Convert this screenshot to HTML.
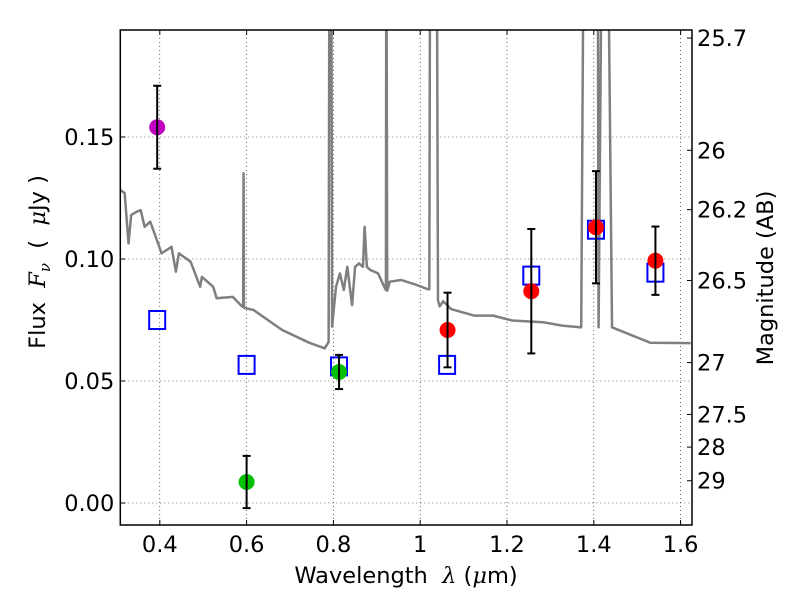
<!DOCTYPE html>
<html><head><meta charset="utf-8"><style>
body{margin:0;background:#fff}
svg{display:block;font-family:"DejaVu Sans","Liberation Sans",sans-serif}
</style></head><body>
<svg id="chart" width="800" height="600" viewBox="0 0 800 600"></svg>
<script>
const specLam=[0.309,0.319,0.328,0.334,0.347,0.356,0.365,0.378,0.396,0.404,0.427,0.437,0.444,0.471,0.493,0.497,0.523,0.531,0.568,0.590,0.592,0.593,0.594,0.599,0.616,0.682,0.744,0.780,0.789,0.791,0.795,0.797,0.806,0.815,0.824,0.832,0.843,0.850,0.859,0.868,0.872,0.877,0.885,0.903,0.917,0.921,0.922,0.924,0.930,0.956,0.991,1.018,1.021,1.023,1.027,1.038,1.041,1.045,1.053,1.061,1.071,1.124,1.168,1.212,1.283,1.327,1.371,1.377,1.409,1.411,1.419,1.432,1.442,1.530,1.623];
const specFlux=[0.1283,0.127,0.1064,0.118,0.1194,0.120,0.1132,0.1153,0.1064,0.1023,0.105,0.0948,0.1023,0.0989,0.0886,0.0927,0.0886,0.0839,0.0845,0.0805,0.0805,0.1351,0.0800,0.0798,0.0791,0.0709,0.0657,0.0634,0.066,0.25,0.25,0.0723,0.0886,0.0941,0.0873,0.0968,0.0811,0.0968,0.0982,0.0968,0.1132,0.0968,0.0955,0.0941,0.0886,0.0873,0.25,0.0870,0.0907,0.0914,0.0894,0.0876,0.0876,0.25,0.25,0.25,0.083,0.0806,0.0827,0.0813,0.0795,0.0768,0.0768,0.0748,0.0741,0.0727,0.0720,0.25,0.25,0.072,0.25,0.25,0.072,0.0657,0.0655];
const obsLam=[0.394,0.600,0.813,1.063,1.256,1.405,1.542];
const obsFlux=[0.154,0.0086,0.0537,0.0709,0.0868,0.113,0.0993];
const obsErr=[0.017,0.0107,0.007,0.0153,0.0255,0.023,0.014];
const obsColor=['#bf00bf','#00c000','#00c000','#ff0000','#ff0000','#ff0000','#ff0000'];
const modLam=[0.394,0.600,0.813,1.062,1.256,1.405,1.542];
const modFlux=[0.075,0.0566,0.056,0.0566,0.0932,0.112,0.0944];
const xTicks=[0.4,0.6,0.8,1.0,1.2,1.4,1.6];
const xTickLabels=['0.4','0.6','0.8','1','1.2','1.4','1.6'];
const yTicks=[0,0.05,0.10,0.15];
const yTickLabels=['0.00','0.05','0.10','0.15'];
const magTicks=[25.7,26,26.2,26.5,27,27.5,28,29];
const magLabels=['25.7','26','26.2','26.5','27','27.5','28','29'];

const L=120.3,R=692,T=30,B=525;
const X=v=>159.8+(v-0.4)*434;
const Y=v=>503-v*2440;
const NS='http://www.w3.org/2000/svg';
const svg=document.getElementById('chart');
function mk(tag,attrs,parent){const e=document.createElementNS(NS,tag);for(const k in attrs)e.setAttribute(k,attrs[k]);(parent||svg).appendChild(e);return e;}

const defs=mk('defs',{});
const cp=mk('clipPath',{id:'clip'},defs);
mk('rect',{x:L,y:T,width:R-L,height:B-T},cp);

const grid=mk('g',{});


xTicks.forEach(v=>mk('line',{x1:X(v),x2:X(v),y1:T,y2:B,stroke:'#000','stroke-width':0.6,'stroke-dasharray':'1,3'},grid));
yTicks.forEach(v=>mk('line',{x1:L,x2:R,y1:Y(v),y2:Y(v),stroke:'#000','stroke-width':0.6,'stroke-dasharray':'1,3'},grid));

const sp=mk('polyline',{points:specLam.map((l,i)=>X(l)+','+Y(specFlux[i])).join(' '),fill:'none',stroke:'#7f7f7f','stroke-width':2.5,'stroke-linejoin':'round','clip-path':'url(#clip)'});



modLam.forEach((l,i)=>{
  const r=mk('rect',{x:X(l)-8,y:Y(modFlux[i])-9,width:16,height:18,fill:'none',stroke:'#0000ff','stroke-width':2});
  
  
});
obsLam.forEach((l,i)=>{
  const g=mk('g',{});
  
  
  const x=X(l),y1=Y(obsFlux[i]+obsErr[i]),y2=Y(obsFlux[i]-obsErr[i]);
  mk('circle',{cx:x,cy:Y(obsFlux[i]),r:8,fill:obsColor[i]},g);
  mk('line',{x1:x,x2:x,y1:y1,y2:y2,stroke:'#000','stroke-width':2},g);
  mk('line',{x1:x-4,x2:x+4,y1:y1,y2:y1,stroke:'#000','stroke-width':2},g);
  mk('line',{x1:x-4,x2:x+4,y1:y2,y2:y2,stroke:'#000','stroke-width':2},g);
});

const fr=mk('rect',{x:L,y:T,width:R-L,height:B-T,fill:'none',stroke:'#000','stroke-width':1.5});



xTicks.forEach((v,i)=>{
  mk('line',{x1:X(v),x2:X(v),y1:B,y2:B-5,stroke:'#000'});
  mk('line',{x1:X(v),x2:X(v),y1:T,y2:T+5,stroke:'#000'});
  const t=mk('text',{x:X(v),y:B+27,'font-size':22.5,'text-anchor':'middle'});
  t.textContent=xTickLabels[i];
  
  
});
yTicks.forEach((v,i)=>{
  mk('line',{x1:L,x2:L+5,y1:Y(v),y2:Y(v),stroke:'#000'});
  const t=mk('text',{x:L-6,y:Y(v)+8,'font-size':22.5,'text-anchor':'end'});
  t.textContent=yTickLabels[i];
  
  
});
magTicks.forEach((m,i)=>{
  const y=Y(Math.pow(10,(23.9-m)/2.5));
  mk('line',{x1:R,x2:R-5,y1:y,y2:y,stroke:'#000'});
  const t=mk('text',{x:R+5,y:y+8,'font-size':22.5});
  t.textContent=magLabels[i];
  
  
});
</script>
<svg style="position:absolute;left:0;top:0" width="800" height="600">
<text x="406" y="583" font-size="22.5" text-anchor="middle" font-family="DejaVu Sans,sans-serif" xml:space="preserve">Wavelength  <tspan font-style="italic" font-family="DejaVu Serif,serif">λ</tspan> (<tspan font-style="italic" font-family="DejaVu Serif,serif">μ</tspan>m)</text>
<text transform="translate(45,262) rotate(-90)" font-size="22.5" text-anchor="middle" font-family="DejaVu Sans,sans-serif" xml:space="preserve">Flux  <tspan font-style="italic" font-family="DejaVu Serif,serif">F<tspan font-size="15" dy="5">ν</tspan></tspan><tspan dy="-5">  (  </tspan><tspan font-style="italic" font-family="DejaVu Serif,serif">μ</tspan>Jy )</text>
<text transform="translate(773,278) rotate(-90)" font-size="22.5" text-anchor="middle" font-family="DejaVu Sans,sans-serif">Magnitude (AB)</text>
</svg>
</body></html>
